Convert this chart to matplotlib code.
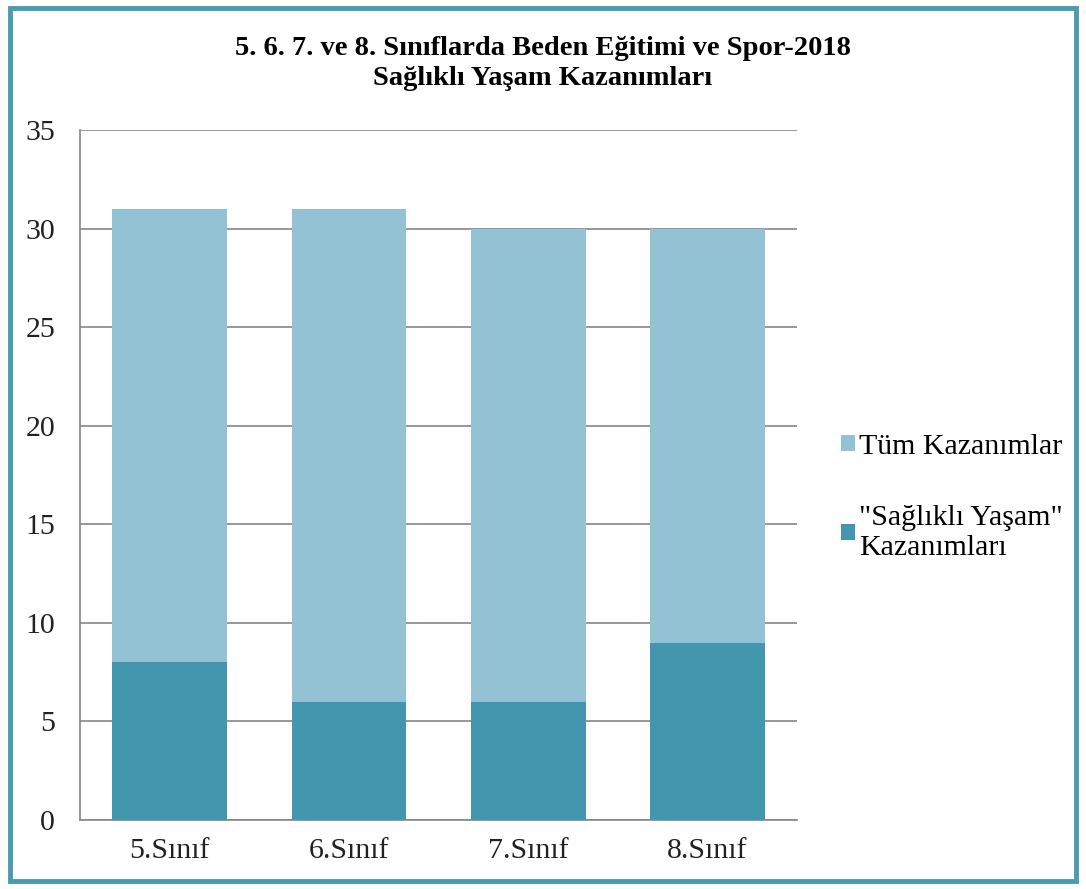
import matplotlib.pyplot as plt
from matplotlib.patches import Rectangle

# data
siniflar = ['5.Sınıf', '6.Sınıf', '7.Sınıf', '8.Sınıf']
tum_kazanimlar = [31, 31, 30, 30]
saglikli_yasam = [8, 6, 6, 9]

light = '#93c2d4'
dark = '#4297ae'

plt.rcParams['font.family'] = ['Liberation Serif', 'DejaVu Serif']

fig = plt.figure(figsize=(10.86, 8.89), dpi=100)
ax = fig.add_axes([0.0737, 0.0776, 0.6603, 0.7762])

x = range(len(siniflar))
ax.bar(x, tum_kazanimlar, width=0.64, color=light, label='Tüm Kazanımlar', zorder=2)
ax.bar(x, saglikli_yasam, width=0.64, color=dark, label='"Sağlıklı Yaşam"\nKazanımları', zorder=3)

ax.set_xlim(-0.5, 3.5)
ax.set_ylim(0, 35)
ax.set_yticks(range(0, 36, 5))
ax.set_xticks(list(x))
ax.set_xticklabels(siniflar)
ax.yaxis.grid(True, color='#868686', linewidth=1.2, zorder=1)
ax.set_axisbelow(True)
for s in ['top', 'right']:
    ax.spines[s].set_visible(False)
for s in ['left', 'bottom']:
    ax.spines[s].set_color('#868686')
    ax.spines[s].set_linewidth(1.2)
ax.tick_params(length=0, labelsize=21.5, colors='#222222')
ax.tick_params(axis='y', pad=18)
ax.tick_params(axis='x', pad=13)

fig.text(0.5, 0.960, '5. 6. 7. ve 8. Sınıflarda Beden Eğitimi ve Spor-2018\nSağlıklı Yaşam Kazanımları',
         ha='center', va='top', fontsize=20.5, fontweight='bold', linespacing=1.3)

fig.legend(loc='upper left', bbox_to_anchor=(0.750, 0.542), frameon=False, fontsize=21.5,
           handlelength=0.45, handleheight=0.45, handletextpad=0.15, labelspacing=1.5)

# outer teal border
fig.patches.append(Rectangle((0.0095, 0.0085), 0.981, 0.982, transform=fig.transFigure,
                             fill=False, edgecolor='#4a9bb0', linewidth=3.5))

fig.savefig('out.png', dpi=100, facecolor='white')
